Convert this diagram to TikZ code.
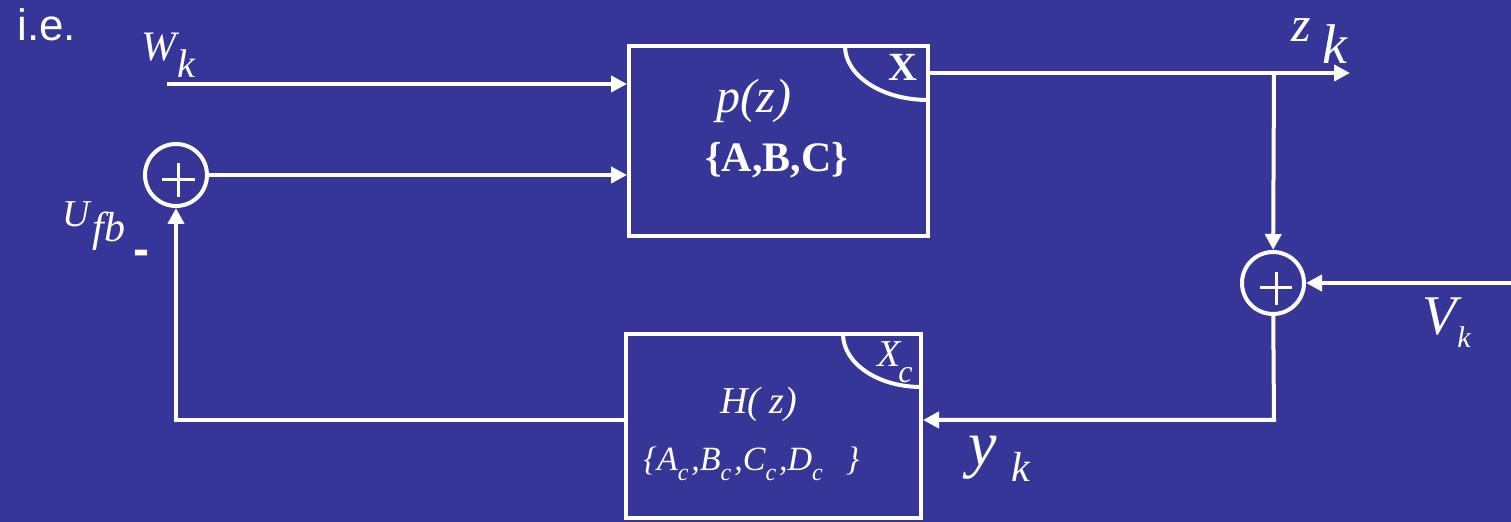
\documentclass[tikz,border=0pt]{standalone}
\usepackage{fontspec}
\setmainfont{Liberation Serif}
\newfontfamily\arialf{Liberation Sans}
\usetikzlibrary{arrows.meta}
\definecolor{bgblue}{RGB}{54,54,152}
\newcommand{\fsz}[1]{\fontsize{#1}{#1}\selectfont}
\newcommand{\subc}[1]{\raisebox{-5pt}{\fsz{12}#1}\hspace{1.5pt}}
\begin{document}
\begin{tikzpicture}[x=0.5pt,y=-0.5pt,
  ln/.style={draw=white,line width=2pt},
  arr/.style={ln,-{Triangle[length=8pt,width=8pt]}},
  blk/.style={ln,rectangle,inner sep=0pt},
  sumc/.style={ln,circle,inner sep=0pt,minimum size=31pt},
  plusln/.style={draw=white,line width=1.5pt},
  lbl/.style={inner sep=0pt,text=white,anchor=base west}]
\fill[bgblue] (0,0) rectangle (1511,522);
\useasboundingbox (0,0) rectangle (1511,522);
% blocks
\node[blk,minimum width=149.5pt,minimum height=95pt] (P) at (778.5,141) {};
\node[blk,minimum width=147.5pt,minimum height=92pt] (H) at (773.5,426) {};
\node[sumc] (S1) at (176,175) {};
\node[sumc] (S2) at (1273,283) {};
\draw[plusln] (S1.center) ++(-14,5) -- ++(33,0);
\draw[plusln] (S1.center) ++(2,-12) -- ++(0,34);
\draw[plusln] (S2.center) ++(-13,5) -- ++(32,0);
\draw[plusln] (S2.center) ++(3,-11) -- ++(0,33);
\draw[ln] (845,46) arc[start angle=180,end angle=270,x radius=41.5pt,y radius=27pt];
\draw[ln] (843,334) arc[start angle=180,end angle=270,x radius=39pt,y radius=26.5pt];
% coordinates
\coordinate (wst) at (167,84);
\coordinate (zend) at (1350,73);
\coordinate (zb) at (1274,73);
\coordinate (vst) at (1515,283);
\coordinate (yc) at (1274,420);
\coordinate (fc) at (176,420);
% connectors
\draw[arr] (wst) -- (wst -| P.west);
\draw[arr] (S1) -- (S1 -| P.west);
\draw[arr] (zend -| P.east) -- (zend);
\draw[arr] (zb) -- (S2);
\draw[arr] (vst) -- (S2);
\draw[arr] (S2) -- (yc) -- (yc -| H.east);
\draw[arr] (fc -| H.west) -- (fc) -- (S1);
% labels
\node[lbl,font=\arialf\fsz{22}] (ie) at (17,41) {i.e.};
\node[lbl,font=\itshape\fsz{21}] (W) at (141,61) {W};
\node[lbl,font=\itshape\fsz{20}] (Wk) at (177,78) {k};
\node[lbl,font=\bfseries\fsz{20}] (X) at (888,81) {X};
\node[lbl,font=\itshape\fsz{24}] (pz) at (716,113) {p(z)};
\node[lbl,font=\bfseries\fsz{21}] (abc) at (705,172) {\{A,B,C\}};
\node[lbl,font=\itshape\fsz{19}] (Xc) at (877,367) {X};
\node[lbl,font=\itshape\fsz{16}] (Xcs) at (898,383) {c};
\node[lbl,font=\itshape\fsz{19}] (Hz) at (720,414) {H( z)};
\node[lbl,font=\itshape\fsz{17}] (abcd) at (643,471) {\{A\subc{c},B\subc{c},C\subc{c},D\subc{c}\hspace{10pt}\}};
\node[lbl,font=\itshape\fsz{32}] (y) at (968,466) {y};
\node[lbl,font=\itshape\fsz{21}] (yk) at (1011,482) {k};
\node[lbl,font=\itshape\fsz{28}] (V) at (1422,335) {V};
\node[lbl,font=\itshape\fsz{15}] (Vk) at (1457,348) {k};
\node[lbl,font=\itshape\fsz{25}] (z) at (1291,42) {z};
\node[lbl,font=\itshape\fsz{28}] (zk) at (1322,64) {k};
\node[lbl,font=\itshape\fsz{19}] (U) at (62,227) {U};
\node[lbl,font=\itshape\fsz{21}] (fb) at (92,242) {fb};
\node[lbl,font=\arialf\bfseries\fsz{24}] (minus) at (133.5,266) {-};
\end{tikzpicture}
\end{document}
